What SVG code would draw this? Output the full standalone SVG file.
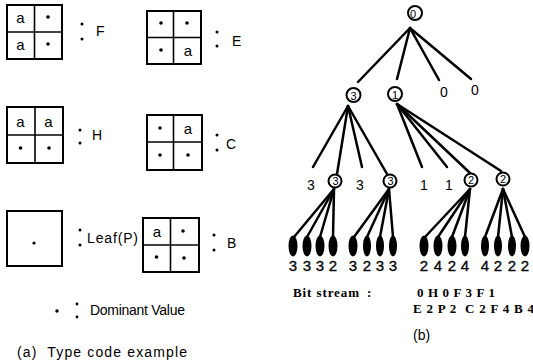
<svg xmlns="http://www.w3.org/2000/svg" width="533" height="364" viewBox="0 0 533 364">
  <style>
    .box { fill: #fff; stroke: #000; stroke-width: 2; }
    .div { stroke: #000; stroke-width: 1.6; }
    .dot { fill: #000; }
    .cell { font-family: "Liberation Sans", Arial, sans-serif; font-size: 15px; text-anchor: middle; fill: #000; }
    .lbl { font-family: "Liberation Sans", Arial, sans-serif; font-size: 14px; fill: #000; }
    .num { font-family: "Liberation Sans", Arial, sans-serif; font-size: 14px; text-anchor: middle; fill: #000; }
    .leafnum { font-family: "Liberation Sans", Arial, sans-serif; font-size: 15px; text-anchor: middle; fill: #000; stroke: #000; stroke-width: 0.3; }
    .cnum { font-family: "Liberation Sans", Arial, sans-serif; font-size: 11px; text-anchor: middle; fill: #000; }
    .node { fill: #fff; stroke: #000; stroke-width: 2; }
    .edge { stroke: #000; stroke-width: 2.5; stroke-linecap: round; fill: none; }
    .leaf { fill: #000; }
    .serif { font-family: "Liberation Serif", "Times New Roman", serif; font-weight: bold; font-size: 13px; fill: #000; }
  </style>

  <!-- (a) type code examples: 2x2 blocks -->
  <g id="type-F">
    <rect class="box" x="7" y="5" width="55" height="54"/>
    <line class="div" x1="34.5" y1="5" x2="34.5" y2="59"/>
    <line class="div" x1="7" y1="32" x2="62" y2="32"/>
    <text class="cell" x="20.5" y="23">a</text>
    <circle class="dot" cx="48" cy="17" r="1.8"/>
    <text class="cell" x="20.5" y="50">a</text>
    <circle class="dot" cx="48" cy="44" r="1.8"/>
    <circle class="dot" cx="82" cy="24" r="1.5"/>
    <circle class="dot" cx="82" cy="39" r="1.5"/>
    <text class="lbl" x="96" y="36" font-size="13">F</text>
  </g>

  <g id="type-E">
    <rect class="box" x="147" y="11" width="54" height="53"/>
    <line class="div" x1="173.5" y1="11" x2="173.5" y2="64"/>
    <line class="div" x1="147" y1="37.5" x2="201" y2="37.5"/>
    <circle class="dot" cx="161" cy="23" r="1.8"/>
    <circle class="dot" cx="187" cy="23" r="1.8"/>
    <circle class="dot" cx="161" cy="50" r="1.8"/>
    <text class="cell" x="188" y="56">a</text>
    <circle class="dot" cx="217" cy="32" r="1.5"/>
    <circle class="dot" cx="217" cy="46" r="1.5"/>
    <text class="lbl" x="232" y="46" font-size="13">E</text>
  </g>

  <g id="type-H">
    <rect class="box" x="7" y="107" width="56" height="56"/>
    <line class="div" x1="35" y1="107" x2="35" y2="163"/>
    <line class="div" x1="7" y1="135" x2="63" y2="135"/>
    <text class="cell" x="20.5" y="127">a</text>
    <text class="cell" x="48.5" y="127">a</text>
    <circle class="dot" cx="20.5" cy="148" r="1.8"/>
    <circle class="dot" cx="49" cy="148" r="1.8"/>
    <circle class="dot" cx="80" cy="130" r="1.5"/>
    <circle class="dot" cx="80" cy="143" r="1.5"/>
    <text class="lbl" x="92" y="140" font-size="13">H</text>
  </g>

  <g id="type-C">
    <rect class="box" x="147" y="115" width="55" height="55"/>
    <line class="div" x1="173.5" y1="115" x2="173.5" y2="170"/>
    <line class="div" x1="147" y1="142" x2="202" y2="142"/>
    <circle class="dot" cx="160" cy="128" r="1.8"/>
    <text class="cell" x="188" y="134">a</text>
    <circle class="dot" cx="160" cy="155" r="1.8"/>
    <circle class="dot" cx="188" cy="155" r="1.8"/>
    <circle class="dot" cx="217" cy="135" r="1.5"/>
    <circle class="dot" cx="217" cy="150" r="1.5"/>
    <text class="lbl" x="226" y="149" font-size="13">C</text>
  </g>

  <g id="type-leaf">
    <rect class="box" x="7" y="211" width="55" height="55"/>
    <circle class="dot" cx="34" cy="243" r="1.6"/>
    <circle class="dot" cx="80" cy="230" r="1.5"/>
    <circle class="dot" cx="80" cy="245" r="1.5"/>
    <text class="lbl" x="87" y="243" font-size="15" textLength="51">Leaf(P)</text>
  </g>

  <g id="type-B">
    <rect class="box" x="143" y="218" width="56" height="54"/>
    <line class="div" x1="170.5" y1="218" x2="170.5" y2="272"/>
    <line class="div" x1="143" y1="245" x2="199" y2="245"/>
    <text class="cell" x="157" y="237">a</text>
    <circle class="dot" cx="183" cy="231" r="1.8"/>
    <circle class="dot" cx="156.5" cy="257" r="1.8"/>
    <circle class="dot" cx="184" cy="258" r="1.8"/>
    <circle class="dot" cx="214" cy="235" r="1.5"/>
    <circle class="dot" cx="214" cy="250" r="1.5"/>
    <text class="lbl" x="227" y="248" font-size="13">B</text>
  </g>

  <g id="legend">
    <circle class="dot" cx="57" cy="311" r="1.7"/>
    <circle class="dot" cx="77" cy="304" r="1.4"/>
    <circle class="dot" cx="77" cy="317" r="1.4"/>
    <text class="lbl" x="90" y="315" font-size="11.5" textLength="95">Dominant Value</text>
  </g>

  <text id="caption-a" class="lbl" x="17" y="357" font-size="15" textLength="170" xml:space="preserve">(a)  Type code example</text>

  <!-- (b) quadtree -->
  <g id="connectors">
    <line class="edge" x1="410" y1="28" x2="358" y2="82"/>
    <line class="edge" x1="410" y1="28" x2="397" y2="79"/>
    <line class="edge" x1="410" y1="28" x2="439" y2="80"/>
    <line class="edge" x1="410" y1="28" x2="471" y2="79"/>

    <line class="edge" x1="348" y1="106" x2="313" y2="167"/>
    <line class="edge" x1="348" y1="106" x2="337" y2="174"/>
    <line class="edge" x1="348" y1="106" x2="362" y2="167"/>
    <line class="edge" x1="348" y1="106" x2="387" y2="174"/>

    <line class="edge" x1="397" y1="104" x2="422" y2="167"/>
    <line class="edge" x1="397" y1="104" x2="447" y2="167"/>
    <line class="edge" x1="397" y1="104" x2="470" y2="173"/>
    <line class="edge" x1="397" y1="104" x2="501" y2="171"/>

    <line class="edge" x1="334" y1="189" x2="294" y2="237"/>
    <line class="edge" x1="334" y1="189" x2="307" y2="237"/>
    <line class="edge" x1="334" y1="189" x2="320" y2="237"/>
    <line class="edge" x1="334" y1="189" x2="333" y2="237"/>

    <line class="edge" x1="389" y1="189" x2="354" y2="237"/>
    <line class="edge" x1="389" y1="189" x2="367" y2="237"/>
    <line class="edge" x1="389" y1="189" x2="380" y2="237"/>
    <line class="edge" x1="389" y1="189" x2="393" y2="237"/>

    <line class="edge" x1="470" y1="189" x2="425" y2="237"/>
    <line class="edge" x1="470" y1="189" x2="438" y2="237"/>
    <line class="edge" x1="470" y1="189" x2="452" y2="237"/>
    <line class="edge" x1="470" y1="189" x2="465" y2="237"/>

    <line class="edge" x1="503" y1="189" x2="485" y2="237"/>
    <line class="edge" x1="503" y1="189" x2="498" y2="237"/>
    <line class="edge" x1="503" y1="189" x2="512" y2="237"/>
    <line class="edge" x1="503" y1="189" x2="525" y2="237"/>
  </g>

  <g id="root">
    <circle class="node" cx="415" cy="13" r="7"/>
    <text class="cnum" x="413" y="17.5" font-size="12">0</text>
  </g>

  <g id="n1-3">
    <circle class="node" cx="353.5" cy="95" r="7"/>
    <text class="cnum" x="353.5" y="99.5" font-size="12">3</text>
  </g>
  <g id="n1-1">
    <circle class="node" cx="395" cy="94" r="7"/>
    <text class="cnum" x="395" y="98.5" font-size="12">1</text>
  </g>
  <g id="n1-0a"><text class="num" x="444" y="97" font-size="15">0</text></g>
  <g id="n1-0b"><text class="num" x="475" y="95" font-size="15">0</text></g>

  <g id="n2-3a"><text class="num" x="311" y="190">3</text></g>
  <g id="n2-c1">
    <circle class="node" cx="335" cy="181" r="6.5"/>
    <text class="cnum" x="335.5" y="185" font-size="10">3</text>
  </g>
  <g id="n2-3b"><text class="num" x="360" y="190">3</text></g>
  <g id="n2-c2">
    <circle class="node" cx="390" cy="181" r="6.5"/>
    <text class="cnum" x="390.5" y="185" font-size="10">3</text>
  </g>
  <g id="n2-1a"><text class="num" x="424" y="190">1</text></g>
  <g id="n2-1b"><text class="num" x="449" y="190">1</text></g>
  <g id="n2-c3">
    <circle class="node" cx="471" cy="180" r="6.5"/>
    <text class="cnum" x="471" y="184" font-size="10">2</text>
  </g>
  <g id="n2-c4">
    <circle class="node" cx="503" cy="179" r="6.5"/>
    <text class="cnum" x="503" y="183" font-size="10">2</text>
  </g>

  <g id="leaves">
    <ellipse class="leaf" cx="293" cy="246" rx="4.5" ry="10.5"/>
    <ellipse class="leaf" cx="307" cy="246" rx="4.5" ry="10.5"/>
    <ellipse class="leaf" cx="320" cy="246" rx="4.5" ry="10.5"/>
    <ellipse class="leaf" cx="333" cy="246" rx="4.5" ry="10.5"/>
    <ellipse class="leaf" cx="353" cy="246" rx="4.5" ry="10.5"/>
    <ellipse class="leaf" cx="367" cy="246" rx="4" ry="10.5"/>
    <ellipse class="leaf" cx="380" cy="246" rx="4" ry="10.5"/>
    <ellipse class="leaf" cx="393" cy="246" rx="4" ry="10.5"/>
    <ellipse class="leaf" cx="424" cy="246" rx="4.5" ry="10.5"/>
    <ellipse class="leaf" cx="438" cy="246" rx="4.5" ry="10.5"/>
    <ellipse class="leaf" cx="452" cy="246" rx="4.5" ry="10.5"/>
    <ellipse class="leaf" cx="465" cy="246" rx="4" ry="10.5"/>
    <ellipse class="leaf" cx="485" cy="246" rx="4" ry="10.5"/>
    <ellipse class="leaf" cx="498" cy="246" rx="4" ry="10.5"/>
    <ellipse class="leaf" cx="512" cy="246" rx="4" ry="10.5"/>
    <ellipse class="leaf" cx="525" cy="246" rx="4.5" ry="10.5"/>
  </g>

  <g id="leaf-values">
    <text class="leafnum" x="293" y="271">3</text>
    <text class="leafnum" x="307" y="271">3</text>
    <text class="leafnum" x="320" y="271">3</text>
    <text class="leafnum" x="333" y="271">2</text>
    <text class="leafnum" x="353" y="271">3</text>
    <text class="leafnum" x="367" y="271">2</text>
    <text class="leafnum" x="380" y="271">3</text>
    <text class="leafnum" x="393" y="271">3</text>
    <text class="leafnum" x="424" y="271">2</text>
    <text class="leafnum" x="438" y="271">4</text>
    <text class="leafnum" x="452" y="271">2</text>
    <text class="leafnum" x="465" y="271">4</text>
    <text class="leafnum" x="485" y="271">4</text>
    <text class="leafnum" x="498" y="271">2</text>
    <text class="leafnum" x="512" y="271">2</text>
    <text class="leafnum" x="525" y="271">2</text>
  </g>

  <g id="bitstream">
    <text class="serif" x="293" y="297" textLength="66">Bit stream</text>
    <text class="serif" x="367" y="297">:</text>
    <text class="serif" x="417" y="297" textLength="78" xml:space="preserve">0 H 0 F 3 F 1</text>
    <text class="serif" x="413" y="313" textLength="121" xml:space="preserve">E 2 P 2  C 2 F 4 B 4</text>
  </g>

  <text id="caption-b" class="lbl" x="413" y="340" font-size="15">(b)</text>
</svg>
